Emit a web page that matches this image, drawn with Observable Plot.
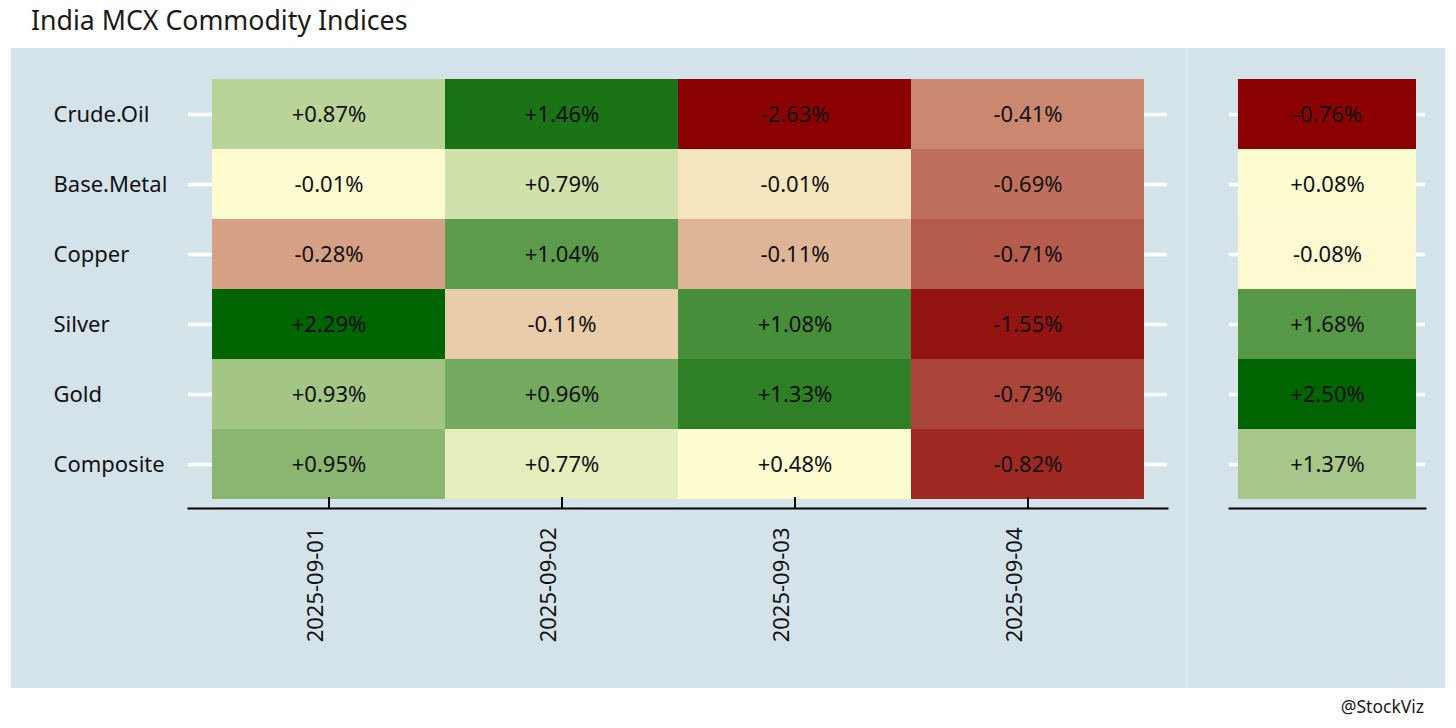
<!DOCTYPE html>
<html>
<head>
<meta charset="utf-8">
<script src="https://cdn.jsdelivr.net/npm/d3@7"></script>
<script src="https://cdn.jsdelivr.net/npm/@observablehq/plot@0.6"></script>
<style>
  html, body { margin: 0; padding: 0; background: #ffffff; }
  body { width: 1456px; height: 728px; position: relative; overflow: hidden; font-family: "Noto Sans", sans-serif; }
  #title { position: absolute; left: 31px; top: 4px; font-size: 26.7px; line-height: 32px; color: #1a1a1a; white-space: nowrap; }
  #panel { position: absolute; left: 11px; top: 48px; width: 1434px; height: 640px; background: #dde9ef; }
  #left { position: absolute; left: 0; top: 0; }
  #right { position: absolute; left: 1177px; top: 0; }
  #caption { position: absolute; right: 32px; top: 695px; font-size: 17.5px; line-height: 22px; color: #1a1a1a; }
</style>
</head>
<body>
<div id="title">India MCX Commodity Indices</div>
<div id="panel"><div id="left"></div><div id="right"></div></div>
<div id="caption">@StockViz</div>
<script>
// Categories
const assets = ["Crude.Oil", "Base.Metal", "Copper", "Silver", "Gold", "Composite"];
const dates = ["2025-09-01", "2025-09-02", "2025-09-03", "2025-09-04"];

// Daily returns (%) per date, in asset order
const ret0901 = [0.87, -0.01, -0.28, 2.29, 0.93, 0.95];
const ret0902 = [1.46, 0.79, 1.04, -0.11, 0.96, 0.77];
const ret0903 = [-2.63, -0.01, -0.11, 1.08, 1.33, 0.48];
const ret0904 = [-0.41, -0.69, -0.71, -1.55, -0.73, -0.82];
// Period return (%) per asset (right-hand column)
const retPeriod = [-0.76, 0.08, -0.08, 1.68, 2.50, 1.37];

// Relative signal strength (-1..1) encoded by the tile shading
const sig0901 = [0.27, 0.00, -0.365, 1.00, 0.36, 0.46];
const sig0902 = [0.90, 0.18, 0.64, -0.19, 0.545, 0.10];
const sig0903 = [-1.00, -0.087, -0.28, 0.725, 0.82, 0.00];
const sig0904 = [-0.46, -0.555, -0.635, -0.92, -0.726, -0.84];
const sigPeriod = [-1.00, 0.00, -0.01, 0.66, 1.00, 0.34];

const retByDate = [ret0901, ret0902, ret0903, ret0904];
const sigByDate = [sig0901, sig0902, sig0903, sig0904];

const tiles = [];
dates.forEach((d, j) => assets.forEach((a, i) => tiles.push({date: d, asset: a, ret: retByDate[j][i], signal: sigByDate[j][i]})));
const periodTiles = assets.map((a, i) => ({date: "Period", asset: a, ret: retPeriod[i], signal: sigPeriod[i]}));

const fmt = v => (v >= 0 ? "+" : "-") + Math.abs(v).toFixed(2) + "%";
const FONT = "Noto Sans";
const FS = 22;
const BG = "#d4e3ea";
const color = {type: "linear", domain: [-1, 0, 1], range: ["#8b0000", "#fffcd2", "#006400"], interpolate: "rgb"};
const yScale = {domain: assets, padding: 0, insetBottom: 9, axis: null};

const left = Plot.plot({
  width: 1175, height: 640,
  marginLeft: 177, marginRight: 19, marginTop: 30, marginBottom: 180,
  style: {background: BG, fontFamily: FONT},
  x: {type: "band", domain: dates, padding: 0, insetLeft: 23, insetRight: 23, axis: null},
  y: yScale,
  color,
  marks: [
    Plot.ruleY(assets, {y: d => d, stroke: "white", strokeWidth: 3.5}),
    Plot.cell(tiles, {x: "date", y: "asset", fill: "signal"}),
    Plot.text(tiles, {x: "date", y: "asset", text: d => fmt(d.ret), fontSize: FS, fill: "#111", fontFamily: FONT}),
    Plot.frame({anchor: "bottom", stroke: "black", strokeWidth: 2}),
    Plot.tickX(dates, {x: d => d, stroke: "black", strokeWidth: 2, insetTop: 419}),
    Plot.text(dates, {x: d => d, frameAnchor: "bottom", rotate: -90, textAnchor: "end", dy: 19, dx: -6, fontSize: FS, fill: "#111", fontFamily: FONT}),
    Plot.text(assets, {y: d => d, frameAnchor: "left", textAnchor: "start", dx: -135, fontSize: FS, fill: "#111", fontFamily: FONT})
  ]
});
document.getElementById("left").appendChild(left);

const right = Plot.plot({
  width: 257, height: 640,
  marginLeft: 41, marginRight: 20, marginTop: 30, marginBottom: 180,
  style: {background: BG, fontFamily: FONT},
  x: {type: "band", domain: ["Period"], padding: 0, insetLeft: 9, insetRight: 9, axis: null},
  y: yScale,
  color,
  marks: [
    Plot.ruleY(assets, {y: d => d, stroke: "white", strokeWidth: 3.5}),
    Plot.cell(periodTiles, {x: "date", y: "asset", fill: "signal"}),
    Plot.text(periodTiles, {x: "date", y: "asset", text: d => fmt(d.ret), fontSize: FS, fill: "#111", fontFamily: FONT}),
    Plot.frame({anchor: "bottom", stroke: "black", strokeWidth: 2})
  ]
});
document.getElementById("right").appendChild(right);
</script>
</body>
</html>
